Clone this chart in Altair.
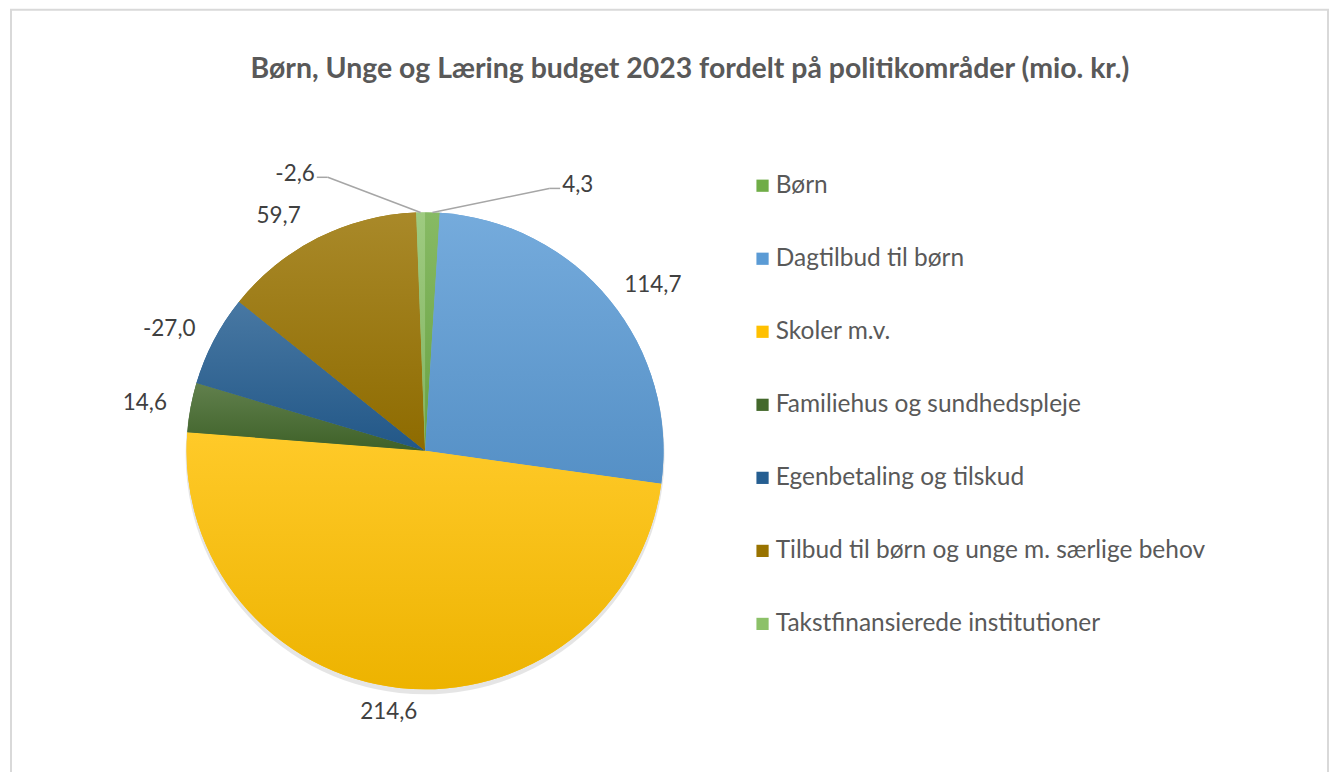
import altair as alt
import pandas as pd

# ---- data ----
categories = [
    "Børn",
    "Dagtilbud til børn",
    "Skoler m.v.",
    "Familiehus og sundhedspleje",
    "Egenbetaling og tilskud",
    "Tilbud til børn og unge m. særlige behov",
    "Takstfinansierede institutioner",
]
values = [4.3, 114.7, 214.6, 14.6, -27.0, 59.7, -2.6]
title_text = "Børn, Unge og Læring budget 2023 fordelt på politikområder (mio. kr.)"

# ---- style ----
colors = ["#70AD47", "#5B9BD5", "#FFC000", "#43682B", "#255E91", "#997300", "#8CC168"]


def mix(hexc, other, t):
    a = [int(hexc[i:i + 2], 16) for i in (1, 3, 5)]
    b = [int(other[i:i + 2], 16) for i in (1, 3, 5)]
    return "#" + "".join(f"{round(x + (y - x) * t):02X}" for x, y in zip(a, b))


FONT = "Lato"
LBL_SIZE = 22.5
W, H = 1325, 764
CX, CY, R = 418, 443, 239

df = pd.DataFrame({"kategori": categories, "beloeb": values, "rk": list(range(len(categories)))})

base = (
    alt.Chart(df)
    .transform_calculate(a="abs(datum.beloeb)")
    .transform_joinaggregate(total="sum(a)")
    .transform_window(cum="sum(a)", sort=[alt.SortField("rk")], frame=[None, 0])
    .transform_calculate(a1="2*PI*datum.cum/datum.total")
    .transform_calculate(a0="2*PI*(datum.cum-datum.a)/datum.total")
    .transform_calculate(mid="(datum.a0+datum.a1)/2")
    .transform_calculate(share="datum.a/datum.total")
    .transform_calculate(
        lbl="(datum.beloeb < 0 ? '-' : '') + replace(format(abs(datum.beloeb), '.1f'), '.', ',')"
    )
    .transform_calculate(side="datum.mid > PI ? -1 : 1")
)

theta = alt.Theta("a0:Q", scale=None, stack=None)
theta2 = alt.Theta2("a1:Q")

shadow = base.mark_arc(radius=R + 1, color="#000000", opacity=0.10).encode(
    theta=theta, theta2=theta2, x=alt.value(CX), y=alt.value(CY + 4)
)

pie = base.mark_arc(radius=R).encode(
    theta=theta,
    theta2=theta2,
    x=alt.value(CX),
    y=alt.value(CY),
    color=alt.Color(
        "kategori:N",
        scale=alt.Scale(domain=categories, range=colors),
        legend=alt.Legend(
            title=None,
            orient="none",
            legendX=744,
            legendY=165,
            direction="vertical",
            symbolType="square",
            symbolSize=150,
            symbolStrokeWidth=0,
            labelFont=FONT,
            labelFontSize=24.5,
            labelColor="#595959",
            labelLimit=700,
            labelOffset=1,
            rowPadding=48.2,
            padding=0,
        ),
    ),
)

grad_layers = []
for cat, col in zip(categories, colors):
    grad = {
        "gradient": "linear",
        "x1": 0, "y1": 0, "x2": 0, "y2": 1,
        "stops": [
            {"offset": 0, "color": mix(col, "#FFFFFF", 0.16)},
            {"offset": 1, "color": mix(col, "#000000", 0.07)},
        ],
    }
    grad_layers.append(
        base.transform_filter(alt.datum.kategori == cat)
        .mark_arc(radius=R, color=grad)
        .encode(theta=theta, theta2=theta2, x=alt.value(CX), y=alt.value(CY))
    )

# labels for normal slices: outside end
main_lbl = (
    base.transform_filter("datum.share >= 0.02")
    .transform_calculate(
        lx=f"{CX} + {R + 12}*sin(datum.mid) + 34*clamp(2.5*sin(datum.mid), -1, 1)"
    )
    .transform_calculate(ly=f"{CY} - {R + 24}*cos(datum.mid)")
    .mark_text(font=FONT, fontSize=LBL_SIZE, color="#404040", align="center", baseline="middle")
    .encode(
        x=alt.X("lx:Q", scale=None, axis=None),
        y=alt.Y("ly:Q", scale=None, axis=None),
        text="lbl:N",
    )
)

# small slices: label moved out with leader line
small = (
    base.transform_filter("datum.share < 0.02")
    .transform_calculate(phi="datum.mid + datum.side*0.367 + 0.044")
    .transform_calculate(sx=f"{CX} + {R}*sin(datum.mid)")
    .transform_calculate(sy=f"{CY} - {R}*cos(datum.mid)")
    .transform_calculate(ex=f"{CX} + {R + 52}*sin(datum.phi)")
    .transform_calculate(ey=f"{CY} - {R + 52}*cos(datum.phi)")
    .transform_calculate(hx="datum.ex + datum.side*11")
    .transform_calculate(tx="datum.hx + datum.side*2")
    .transform_calculate(ty="datum.ey - 3")
)
leader1 = small.mark_rule(color="#A6A6A6", strokeWidth=1.5).encode(
    x=alt.X("sx:Q", scale=None, axis=None), y=alt.Y("sy:Q", scale=None, axis=None),
    x2="ex:Q", y2="ey:Q",
)
leader2 = small.mark_rule(color="#A6A6A6", strokeWidth=1.5).encode(
    x=alt.X("ex:Q", scale=None, axis=None), y=alt.Y("ey:Q", scale=None, axis=None),
    x2="hx:Q", y2="ey:Q",
)
small_left = small.transform_filter("datum.side < 0").mark_text(
    font=FONT, fontSize=LBL_SIZE, color="#404040", align="right", baseline="middle"
).encode(x=alt.X("tx:Q", scale=None, axis=None), y=alt.Y("ty:Q", scale=None, axis=None), text="lbl:N")
small_right = small.transform_filter("datum.side > 0").mark_text(
    font=FONT, fontSize=LBL_SIZE, color="#404040", align="left", baseline="middle"
).encode(x=alt.X("tx:Q", scale=None, axis=None), y=alt.Y("ty:Q", scale=None, axis=None), text="lbl:N")

frame = base.transform_filter("datum.rk == 0").mark_rect(
    fill="#FFFFFF", fillOpacity=0, stroke="#D9D9D9", strokeWidth=2
).encode(x=alt.value(3), x2=alt.value(1323), y=alt.value(1), y2=alt.value(900))

chart = (
    alt.layer(frame, shadow, pie, *grad_layers, leader1, leader2, main_lbl, small_left, small_right)
    .properties(
        width=W,
        height=H,
        padding=0,
        autosize=alt.AutoSizeParams(type="none"),
        background="#FFFFFF",
        title=alt.TitleParams(
            text=title_text,
            font=FONT,
            fontSize=28.5,
            fontWeight="bold",
            color="#595959",
            anchor="middle",
            baseline="middle",
            offset=0,
            dx=21,
            dy=89,
        ),
    )
    .configure_view(strokeWidth=0)
)

chart.save("out.html", embed_options={"renderer": "svg", "actions": False})
